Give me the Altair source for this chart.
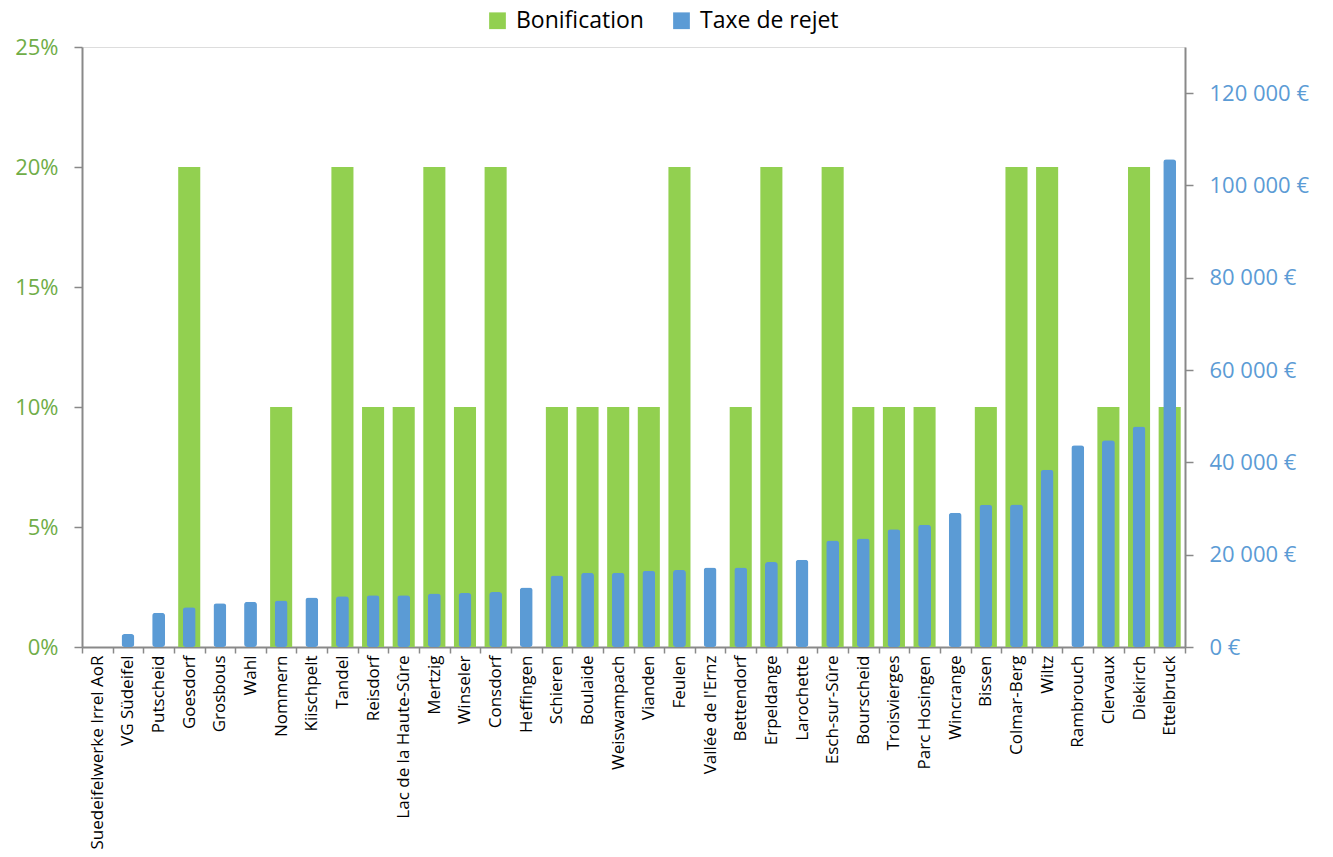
import altair as alt
import pandas as pd

communes = [
    "Suedeifelwerke Irrel AoR", "VG Südeifel", "Putscheid", "Goesdorf", "Grosbous", "Wahl",
    "Nommern", "Kiischpelt", "Tandel", "Reisdorf", "Lac de la Haute-Sûre", "Mertzig",
    "Winseler", "Consdorf", "Heffingen", "Schieren", "Boulaide", "Weiswampach",
    "Vianden", "Feulen", "Vallée de l'Ernz", "Bettendorf", "Erpeldange", "Larochette",
    "Esch-sur-Sûre", "Bourscheid", "Troisvierges", "Parc Hosingen", "Wincrange", "Bissen",
    "Colmar-Berg", "Wiltz", "Rambrouch", "Clervaux", "Diekirch", "Ettelbruck",
]
bonification = [
    0.0, 0.0, 0.0, 0.20, 0.0, 0.0,
    0.10, 0.0, 0.20, 0.10, 0.10, 0.20,
    0.10, 0.20, 0.0, 0.10, 0.10, 0.10,
    0.10, 0.20, 0.0, 0.10, 0.20, 0.0,
    0.20, 0.10, 0.10, 0.10, 0.0, 0.10,
    0.20, 0.20, 0.0, 0.10, 0.20, 0.10,
]
taxe = [
    0, 2800, 7400, 8600, 9500, 9800,
    10100, 10700, 11000, 11200, 11200, 11600,
    11700, 11900, 12900, 15500, 16100, 16100,
    16500, 16700, 17200, 17200, 18400, 18900,
    23100, 23500, 25500, 26500, 29100, 30800,
    30900, 38400, 43700, 44800, 47800, 105700,
]
series = ["Bonification", "Taxe de rejet"]
series_colors = ["#92D050", "#5B9BD5"]

df = pd.DataFrame({"commune": communes, "bonif": bonification, "taxe": taxe})

FONT = "Open Sans"
GREEN_TXT = "#70AD47"
BLUE_TXT = "#5B9BD5"
AXIS_GREY = "#898989"

color = alt.Color(
    "serie:N",
    scale=alt.Scale(domain=series, range=series_colors),
    legend=alt.Legend(
        title=None, orient="none", direction="horizontal",
        legendX=404, legendY=-38,
        labelFontSize=23, labelFont=FONT, labelColor="#000000",
        symbolType="square", symbolSize=280, symbolStrokeWidth=0,
        columnPadding=26, labelOffset=7,
    ),
)

x = alt.X(
    "commune:N", sort=communes, title=None,
    scale=alt.Scale(paddingInner=0, paddingOuter=0),
    axis=alt.Axis(
        labelAngle=270, labelFontSize=17, labelFont=FONT, labelColor="#000000",
        labelPadding=2, tickBand="extent", tickSize=6, tickColor=AXIS_GREY,
        domainColor=AXIS_GREY, domainWidth=2, tickWidth=1.5, grid=False,
        labelLimit=300,
    ),
)

green = alt.Chart(df).transform_calculate(serie="'Bonification'").mark_bar(
    width=alt.RelativeBandSize(0.72)
).encode(
    x=x,
    y=alt.Y(
        "bonif:Q", title=None,
        scale=alt.Scale(domain=[0, 0.25], nice=False),
        axis=alt.Axis(
            orient="left", values=[0, 0.05, 0.10, 0.15, 0.20, 0.25], format=".0%",
            labelFontSize=22, labelFont=FONT, labelColor=GREEN_TXT, labelPadding=16,
            tickSize=8, tickColor=AXIS_GREY, domainColor=AXIS_GREY, domainWidth=2,
            tickWidth=1.5, grid=False,
        ),
    ),
    color=color,
)

blue = alt.Chart(df).transform_calculate(serie="'Taxe de rejet'").mark_bar(
    width=alt.RelativeBandSize(0.42), cornerRadius=3
).encode(
    x=x,
    y=alt.Y(
        "taxe:Q", title=None,
        scale=alt.Scale(domain=[0, 130000], nice=False),
        axis=alt.Axis(
            orient="right", values=[0, 20000, 40000, 60000, 80000, 100000, 120000],
            labelExpr="datum.value == 0 ? '0 €' : floor(datum.value / 1000) + ' 000 €'",
            labelFontSize=22, labelFont=FONT, labelColor=BLUE_TXT, labelPadding=16,
            tickSize=8, tickColor=AXIS_GREY, domainColor=AXIS_GREY, domainWidth=2,
            tickWidth=1.5, grid=False,
        ),
    ),
    color=color,
)

chart = alt.layer(green, blue).resolve_scale(y="independent").properties(
    width=1103, height=600,
    autosize=alt.AutoSizeParams(type="none"),
    padding={"left": 82, "top": 47, "right": 148, "bottom": 210},
).configure_view(strokeWidth=0, stroke="transparent").configure_axis(grid=False).configure(
    font=FONT, background="white"
)

chart.save("out.html", embed_options={"renderer": "svg", "actions": False})
